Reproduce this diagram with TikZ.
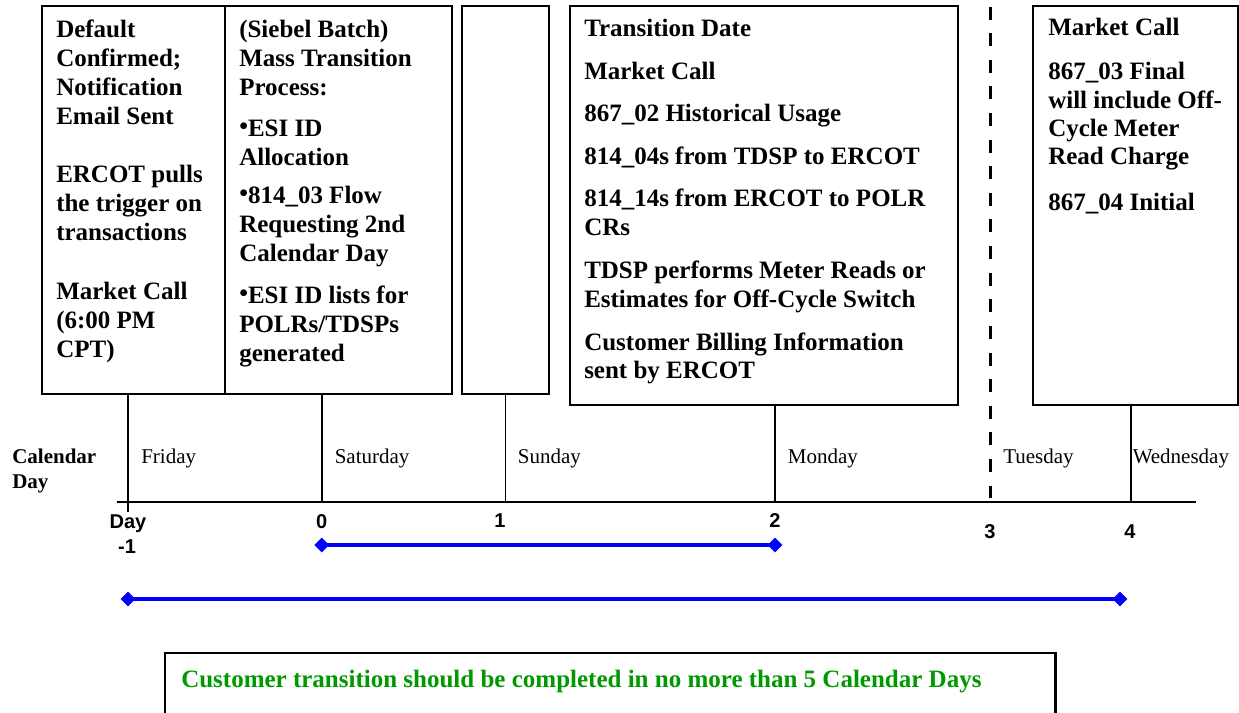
\documentclass[tikz,border=0pt]{standalone}
\usepackage{fontspec}
\setmainfont{Liberation Serif}
\setsansfont{Liberation Sans}
\usetikzlibrary{shapes.geometric}
\definecolor{blueline}{RGB}{0,0,255}
\definecolor{greentext}{RGB}{0,153,0}
\newcommand{\txtline}[4]{\node[txt] (#1) at (#2,#3) {#4};}
\newcommand{\bul}{\raisebox{1.5pt}{\textbullet}}
\begin{document}
\begin{tikzpicture}[x=0.75pt,y=-0.75pt,
  box/.style={draw, line width=1.6pt, rectangle, inner sep=0pt, outer sep=0pt},
  txt/.style={anchor=base west, inner sep=0pt, font=\bfseries\fontsize{18.75}{21.75}\selectfont},
  calday/.style={anchor=base west, inner sep=0pt, font=\bfseries\fontsize{15.75}{18}\selectfont},
  dayname/.style={anchor=base west, inner sep=0pt, font=\fontsize{15.75}{18}\selectfont},
  daynum/.style={anchor=base, inner sep=0pt, font=\sffamily\bfseries\fontsize{15}{18}\selectfont},
  tick/.style={line width=1.2pt},
  axis/.style={line width=1.6pt},
  span/.style={blueline, line width=2.6pt},
  dia/.style={diamond, fill=blueline, inner sep=0pt, outer sep=0pt, minimum width=11pt, minimum height=11pt},
  sep/.style={line width=2.4pt, dash pattern=on 9.75pt off 10.2pt}
]
\useasboundingbox (0,0) rectangle (1239,713);
\clip (0,0) rectangle (1239,713);
\fill[white] (0,0) rectangle (1239,713);

% boxes
\node[box, minimum width=137.5pt, minimum height=291.2pt] (box1) at (133.35,200.15) {};
\node[box, minimum width=170pt, minimum height=291.2pt] (box2) at (338.35,200.15) {};
\node[box, minimum width=65.5pt, minimum height=291.2pt] (box3) at (505.35,200.15) {};
\node[box, minimum width=291.2pt, minimum height=299.25pt] (box4) at (764.15,205.5) {};
\node[box, minimum width=153.75pt, minimum height=299.25pt] (box5) at (1135.5,205.5) {};
\node[box, line width=1.8pt, minimum width=667.9pt, minimum height=61.5pt] (note) at (610.25,694) {};

% box 1 text
\txtline{b1a}{56}{38}{Default}
\txtline{b1b}{56}{67}{Confirmed;}
\txtline{b1c}{56}{96}{Notification}
\txtline{b1d}{56}{125}{Email Sent}
\txtline{b1e}{56}{183}{ERCOT pulls}
\txtline{b1f}{56}{212}{the trigger on}
\txtline{b1g}{56}{241}{transactions}
\txtline{b1h}{56}{299}{Market Call}
\txtline{b1i}{56}{328}{(6:00 PM}
\txtline{b1j}{56}{357}{CPT)}

% box 2 text
\txtline{b2a}{239}{38}{(Siebel Batch)}
\txtline{b2b}{239}{67}{Mass Transition}
\txtline{b2c}{239}{96}{Process:}
\txtline{b2d}{239}{137}{\bul ESI ID}
\txtline{b2e}{239}{166}{Allocation}
\txtline{b2f}{239}{204}{\bul 814\_03 Flow}
\txtline{b2g}{239}{233}{Requesting 2nd}
\txtline{b2h}{239}{262}{Calendar Day}
\txtline{b2i}{239}{303}{\bul ESI ID lists for}
\txtline{b2j}{239}{332}{POLRs/TDSPs}
\txtline{b2k}{239}{361}{generated}

% box 4 text
\txtline{b4a}{584}{37}{Transition Date}
\txtline{b4b}{584}{80}{Market Call}
\txtline{b4c}{584}{122}{867\_02 Historical Usage}
\txtline{b4d}{584}{165}{814\_04s from TDSP to ERCOT}
\txtline{b4e}{584}{207}{814\_14s from ERCOT to POLR}
\txtline{b4f}{584}{236}{CRs}
\txtline{b4g}{584}{278}{TDSP performs Meter Reads or}
\txtline{b4h}{584}{307}{Estimates for Off-Cycle Switch}
\txtline{b4i}{584}{350}{Customer Billing Information}
\txtline{b4j}{584}{378}{sent by ERCOT}

% box 5 text
\txtline{b5a}{1048}{36}{Market Call}
\txtline{b5b}{1048}{80}{867\_03 Final}
\txtline{b5c}{1048}{109}{will include Off-}
\txtline{b5d}{1048}{137}{Cycle Meter}
\txtline{b5e}{1048}{165}{Read Charge}
\txtline{b5f}{1048}{210}{867\_04 Initial}

% timeline
\coordinate (axl) at (116.7,502);
\coordinate (axr) at (1196,502);
\draw[axis] (axl) -- (axr);
\coordinate (tfri) at (128,512);
\coordinate (tsat) at (321.7,502);
\coordinate (tsun) at (505.3,502);
\coordinate (tmon) at (775,502);
\coordinate (twed) at (1130.7,502);
\draw[tick] (tfri |- box1.south) -- (tfri);
\draw[tick] (tsat |- box2.south) -- (tsat);
\draw[tick] (tsun |- box3.south) -- (tsun);
\draw[tick] (tmon |- box4.south) -- (tmon);
\draw[tick] (twed |- box5.south) -- (twed);
\coordinate (septop) at (990.7,6.7);
\coordinate (sepbot) at (990.7,498);
\draw[sep] (septop) -- (sepbot);

% labels
\node[calday] (cal1) at (12,463) {Calendar};
\node[calday] (cal2) at (12,488) {Day};
\node[dayname] (fri) at (141,463) {Friday};
\node[dayname] (sat) at (334.5,463) {Saturday};
\node[dayname] (sun) at (517.7,463) {Sunday};
\node[dayname] (mon) at (787.7,463) {Monday};
\node[dayname] (tue) at (1003,463) {Tuesday};
\node[dayname] (wed) at (1132.5,463) {Wednesday};

\node[daynum] (nday) at (128,528) {Day};
\node[daynum] (nm1) at (127,553) {-1};
\node[daynum] (n0) at (321.7,528) {0};
\node[daynum] (n1) at (500,527) {1};
\node[daynum] (n2) at (775,527) {2};
\node[daynum] (n3) at (990,538) {3};
\node[daynum] (n4) at (1130,538) {4};

% spans
\node[dia] (s1a) at (321.7,545) {};
\node[dia] (s1b) at (775,545) {};
\draw[span] (s1a.center) -- (s1b.center);
\node[dia] (s2a) at (128,599) {};
\node[dia] (s2b) at (1120,599) {};
\draw[span] (s2a.center) -- (s2b.center);

% note
\node[anchor=base west, inner sep=0pt, text=greentext, font=\bfseries\fontsize{18.75}{21.75}\selectfont] (notetxt) at (181,687) {Customer transition should be completed in no more than 5 Calendar Days};
\end{tikzpicture}
\end{document}
